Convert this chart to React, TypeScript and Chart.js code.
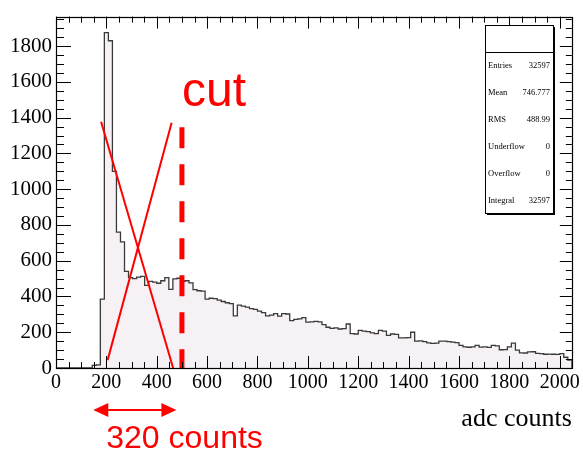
import React, { useEffect, useRef } from "react";
import { Chart, registerables } from "chart.js";

Chart.register(...registerables);

// ---- data ----
const BIN_WIDTH = 16;
const X_MAX = 2048;
const Y_MAX = 1965;
const binCounts = [
  0, 0, 0, 0, 0, 0, 0, 0, 0, 15,
  18, 385, 1875, 1830, 1100, 760, 705, 540, 505, 500,
  508, 512, 462, 484, 480, 474, 488, 505, 440, 498,
  502, 485, 488, 476, 438, 432, 430, 385, 390, 388,
  380, 372, 365, 360, 292, 352, 346, 340, 332, 328,
  318, 310, 292, 296, 304, 290, 304, 302, 265, 272,
  275, 282, 256, 258, 261, 258, 242, 228, 222, 224,
  218, 220, 246, 192, 190, 210, 206, 203, 196, 192,
  210, 206, 182, 190, 188, 168, 168, 170, 200, 150,
  152, 148, 140, 138, 139, 150, 150, 148, 145, 142,
  126, 118, 116, 118, 126, 117, 118, 115, 126, 124,
  102, 103, 118, 139, 100, 85, 84, 90, 91, 82,
  80, 77, 78, 77, 76, 80, 60, 44,
];
const xTickValues = [0, 200, 400, 600, 800, 1000, 1200, 1400, 1600, 1800, 2000];
const yTickValues = [0, 200, 400, 600, 800, 1000, 1200, 1400, 1600, 1800];
const MINOR_STEP = 50;

const crossLineA = [{ x: 179, y: 1377 }, { x: 465, y: 0 }];
const crossLineB = [{ x: 205, y: 44 }, { x: 459, y: 1372 }];
const cutPosition = 500;
const cutTop = 1346;
const cutLine = [{ x: cutPosition, y: cutTop }, { x: cutPosition, y: 0 }];
const arrowFrom = 148;
const arrowTo = 478;
const cutLabel = "cut";
const widthLabel = "320 counts";
const xAxisTitle = "adc counts";
const statsLabels = ["Entries", "Mean", "RMS", "Underflow", "Overflow", "Integral"];
const statsValues = ["32597", "746.777", "488.99", "0", "0", "32597"];

const SERIF = "'Liberation Serif', 'Times New Roman', serif";
const SANS = "'Liberation Sans', Arial, sans-serif";

const framePlugin = {
  id: "rootFrame",
  afterDatasetsDraw(chart: any) {
    const { ctx, chartArea: a, scales } = chart;
    const xs = scales.x;
    const ys = scales.y;
    ctx.save();
    ctx.strokeStyle = "#000";
    ctx.lineWidth = 1;
    ctx.beginPath();
    for (let v = 0; v <= X_MAX; v += MINOR_STEP) {
      const px = Math.round(xs.getPixelForValue(v)) + 0.5;
      const major = v % 200 === 0;
      const l = major ? 12 : 6;
      ctx.moveTo(px, a.bottom);
      ctx.lineTo(px, a.bottom - l);
      ctx.moveTo(px, a.top);
      ctx.lineTo(px, a.top + l);
    }
    for (let v = 0; v <= Y_MAX; v += MINOR_STEP) {
      const py = Math.round(ys.getPixelForValue(v)) + 0.5;
      const major = v % 200 === 0;
      ctx.moveTo(a.left, py);
      ctx.lineTo(a.left + (major ? 15 : 8), py);
      ctx.moveTo(a.right, py);
      ctx.lineTo(a.right - (major ? 12 : 6), py);
    }
    ctx.stroke();
    ctx.lineWidth = 1.2;
    ctx.strokeRect(Math.round(a.left) + 0.5, Math.round(a.top) + 0.5, Math.round(a.right - a.left), Math.round(a.bottom - a.top));
    ctx.restore();
  },
  afterDraw(chart: any) {
    const { ctx, chartArea: a, scales } = chart;
    const xs = scales.x;
    const ys = scales.y;
    ctx.save();
    // stats box
    const bx = 485, by = 25, bw = 68, bh = 188;
    ctx.fillStyle = "#000";
    ctx.fillRect(bx + 2, by + 2, bw, bh);
    ctx.fillStyle = "#fff";
    ctx.fillRect(bx, by, bw, bh);
    ctx.strokeStyle = "#000";
    ctx.lineWidth = 1;
    ctx.strokeRect(bx + 0.5, by + 0.5, bw, bh);
    ctx.beginPath();
    ctx.moveTo(bx, by + 27.5);
    ctx.lineTo(bx + bw, by + 27.5);
    ctx.stroke();
    ctx.fillStyle = "#000";
    ctx.font = `8.5px ${SERIF}`;
    ctx.textBaseline = "middle";
    statsLabels.forEach((lab, i) => {
      const yy = by + 41 + i * 27;
      ctx.textAlign = "left";
      ctx.fillText(lab, bx + 3, yy);
      ctx.textAlign = "right";
      ctx.fillText(statsValues[i], bx + bw - 3, yy);
    });

    // "cut" label
    const cx = xs.getPixelForValue(cutPosition);
    ctx.fillStyle = "#ff0000";
    ctx.textBaseline = "alphabetic";
    ctx.textAlign = "left";
    ctx.font = `48px ${SANS}`;
    ctx.fillText(cutLabel, cx, ys.getPixelForValue(cutTop) - 21);

    // double arrow below axis
    const ax1 = xs.getPixelForValue(arrowFrom);
    const ax2 = xs.getPixelForValue(arrowTo);
    const ay = a.bottom + 42;
    ctx.strokeStyle = "#ff0000";
    ctx.lineWidth = 2;
    ctx.beginPath();
    ctx.moveTo(ax1 + 10, ay);
    ctx.lineTo(ax2 - 10, ay);
    ctx.stroke();
    ctx.beginPath();
    ctx.moveTo(ax1, ay);
    ctx.lineTo(ax1 + 15, ay - 7);
    ctx.lineTo(ax1 + 15, ay + 7);
    ctx.closePath();
    ctx.moveTo(ax2, ay);
    ctx.lineTo(ax2 - 15, ay - 7);
    ctx.lineTo(ax2 - 15, ay + 7);
    ctx.closePath();
    ctx.fill();
    ctx.font = `32px ${SANS}`;
    ctx.fillText(widthLabel, ax1 + 13, a.bottom + 80);

    // axis title
    ctx.fillStyle = "#000";
    ctx.textAlign = "right";
    ctx.font = `26px ${SERIF}`;
    ctx.fillText(xAxisTitle, a.right, a.bottom + 58);
    ctx.restore();
  },
};

export default function App() {
  const ref = useRef<HTMLCanvasElement | null>(null);
  useEffect(() => {
    if (!ref.current) return;
    const histPoints = binCounts.map((v, i) => ({ x: i * BIN_WIDTH, y: v }));
    histPoints.push({ x: X_MAX, y: 0 });
    const chart = new Chart(ref.current, {
      type: "line",
      data: {
        datasets: [
          {
            data: crossLineA,
            borderColor: "#ff0000",
            borderWidth: 2,
            pointRadius: 0,
            fill: false,
            order: 0,
          },
          {
            data: crossLineB,
            borderColor: "#ff0000",
            borderWidth: 2,
            pointRadius: 0,
            fill: false,
            order: 0,
          },
          {
            data: cutLine,
            borderColor: "#ff0000",
            borderWidth: 5,
            borderDash: [21, 16],
            borderCapStyle: "butt",
            pointRadius: 0,
            fill: false,
            order: 0,
          },
          {
            data: histPoints,
            stepped: true,
            borderColor: "#3a3a3a",
            borderWidth: 1.3,
            backgroundColor: "rgb(246,241,245)",
            fill: "origin",
            pointRadius: 0,
            order: 10,
          },
        ],
      },
      options: {
        responsive: false,
        animation: false,
        parsing: false as any,
        layout: { padding: { top: 10, right: 11, left: 0, bottom: 0 } },
        plugins: { legend: { display: false }, tooltip: { enabled: false } },
        scales: {
          x: {
            type: "linear",
            min: 0,
            max: X_MAX,
            grid: { display: false, drawTicks: false },
            border: { display: false },
            afterBuildTicks: (s: any) => {
              s.ticks = xTickValues.map((v) => ({ value: v }));
            },
            afterFit: (s: any) => {
              s.height = 83;
            },
            ticks: {
              color: "#000",
              padding: 3,
              maxRotation: 0,
              autoSkip: false,
              font: { family: SERIF, size: 20 },
              callback: (v: any) => String(v),
            },
          },
          y: {
            type: "linear",
            min: 0,
            max: Y_MAX,
            grid: { display: false, drawTicks: false },
            border: { display: false },
            afterBuildTicks: (s: any) => {
              s.ticks = yTickValues.map((v) => ({ value: v }));
            },
            afterFit: (s: any) => {
              s.width = 56;
            },
            ticks: {
              color: "#000",
              padding: 4,
              autoSkip: false,
              font: { family: SERIF, size: 21 },
              callback: (v: any) => String(v),
            },
          },
        },
      },
      plugins: [framePlugin],
    } as any);
    return () => chart.destroy();
  }, []);
  return (
    <div style={{ position: "fixed", left: 0, top: 0, width: 583, height: 451, background: "#fff" }}>
      <canvas ref={ref} width={583} height={451} />
    </div>
  );
}
